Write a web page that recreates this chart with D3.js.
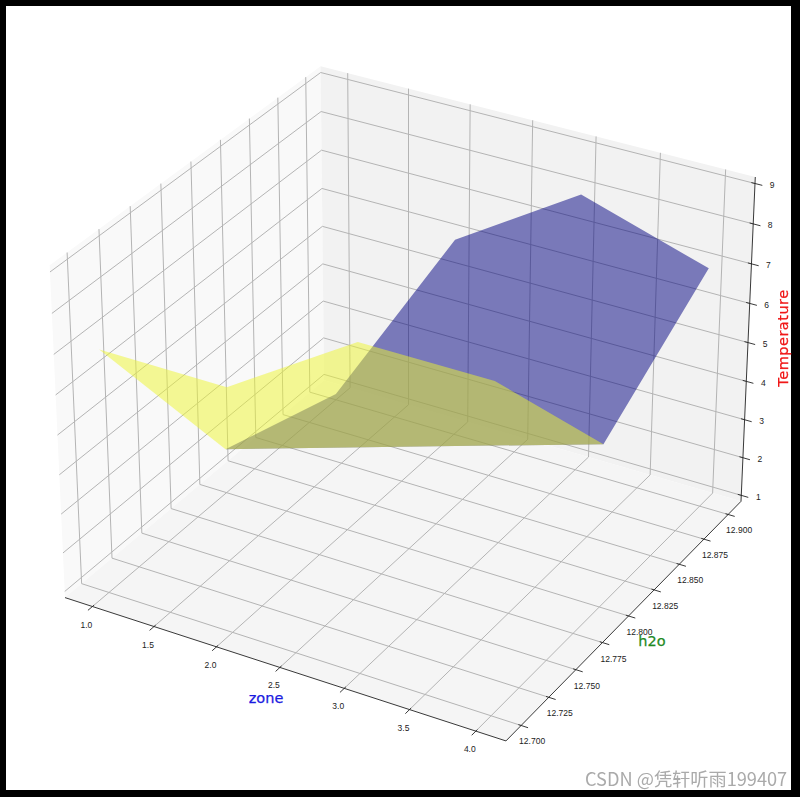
<!DOCTYPE html><html><head><meta charset="utf-8"><script src="https://cdn.jsdelivr.net/npm/d3@7"></script>
<style>html,body{margin:0;background:#000}svg{display:block;filter:blur(.35px)}</style></head><body><svg id="c" width="800" height="797"></svg>
<script>
const zones=[1,2,3,4];
const h2oRows=[12.7,12.8,12.9];
const tempRow127=[7,7,9,9];
const tempRow128=[2,3,4,5];
const tempRow129=[1,6,8,7];
const zoneTicks=[1,1.5,2,2.5,3,3.5,4];
const h2oTicks=[12.7,12.725,12.75,12.775,12.8,12.825,12.85,12.875,12.9];
const tempTicks=[1,2,3,4,5,6,7,8,9];
const zoneLim=[0.775,4.225], h2oLim=[12.6865,12.9135], tempLim=[0.84,9.16];
const box=[1.143,1.143,0.857];
const xn=d3.scaleLinear().domain(zoneLim).range([-box[0]/2,box[0]/2]);
const yn=d3.scaleLinear().domain(h2oLim).range([-box[1]/2,box[1]/2]);
const zn=d3.scaleLinear().domain(tempLim).range([-box[2]/2,box[2]/2]);
const u=[.866025,.5,0],v=[-.25,.433013,.866025],w=[.433013,-.75,.5];
const sx=d3.scaleLinear().domain([0,1]).range([409,409+4421]);
const sy=d3.scaleLinear().domain([0,1]).range([388,388-4421]);
const dot=(a,b)=>a[0]*b[0]+a[1]*b[1]+a[2]*b[2];
function P(x,y,z){const p=[xn(x),yn(y),zn(z)],d=10-dot(w,p);return [sx(dot(u,p)/d),sy(dot(v,p)/d)];}
const s=d3.select('#c');
s.append('rect').attr('x',6).attr('y',6).attr('width',785).attr('height',784).attr('fill','#fff');
const L=d3.line();
const [x0,x1]=zoneLim,[y0,y1]=h2oLim,[z0,z1]=tempLim;
const pathOf=pts=>L(pts.map(p=>P(...p)));
const pane=(pts,f)=>s.append('path').attr('d',pathOf(pts)+'Z').attr('fill',f);
pane([[x0,y0,z0],[x0,y1,z0],[x0,y1,z1],[x0,y0,z1]],'#f9f9f9');
pane([[x0,y1,z0],[x1,y1,z0],[x1,y1,z1],[x0,y1,z1]],'#f2f2f2');
pane([[x0,y0,z0],[x1,y0,z0],[x1,y1,z0],[x0,y1,z0]],'#f5f5f5');
const grid=pts=>s.append('path').attr('d',pathOf(pts)).attr('fill','none').attr('stroke','#b4b4b4').attr('stroke-width',1);
zoneTicks.forEach(t=>grid([[t,y0,z0],[t,y1,z0],[t,y1,z1]]));
h2oTicks.forEach(t=>grid([[x1,t,z0],[x0,t,z0],[x0,t,z1]]));
tempTicks.forEach(t=>grid([[x0,y0,t],[x0,y1,t],[x1,y1,t]]));
function surface(yA,zA,yB,zB,color){
  const pts=[...zones.map((z,i)=>[z,yA,zA[i]]),...zones.map((z,i)=>[z,yB,zB[i]]).reverse()];
  s.append('path').attr('d',pathOf(pts)+'Z').attr('fill',color).attr('fill-opacity',.5);
}
surface(h2oRows[1],tempRow128,h2oRows[2],tempRow129,'#000080');
surface(h2oRows[0],tempRow127,h2oRows[1],tempRow128,'#eef52e');
const axis=pts=>s.append('path').attr('d',pathOf(pts)).attr('fill','none').attr('stroke','#222').attr('stroke-width',.9);
axis([[x0,y0,z0],[x1,y0,z0]]);axis([[x1,y0,z0],[x1,y1,z0]]);axis([[x1,y1,z0],[x1,y1,z1]]);
const dx=x1-x0,dy=y1-y0;
const tickText=(p,txt,ox,oy)=>s.append('text').attr('x',p[0]+ox).attr('y',p[1]+oy).attr('text-anchor','middle').attr('dominant-baseline','central').attr('font-family','Liberation Sans').attr('font-size',8.5).attr('fill','#222').text(txt);
const fx=d3.format('.1f'),fy=d3.format('.3f');
zoneTicks.forEach(t=>{axis([[t,y0+dy*.006,z0],[t,y0-dy*.016,z0]]);tickText(P(t,y0,z0),fx(t),-6,18);});
h2oTicks.forEach(t=>{axis([[x1-dx*.006,t,z0],[x1+dx*.015,t,z0]]);tickText(P(x1,t,z0),fy(t),11,16);});
tempTicks.forEach(t=>{axis([[x1-dx*.008,y1,t],[x1+dx*.016,y1,t]]);tickText(P(x1,y1,t),String(t),17,1.5);});
const label=(x,y,txt,c,rot,ls)=>s.append('text').attr('transform',`translate(${x},${y})`+(rot?` rotate(${rot})`:'')).attr('text-anchor','middle').attr('dominant-baseline','central').attr('font-family','DejaVu Sans').attr('font-size',14.5).attr('letter-spacing',ls||0).attr('stroke',c).attr('stroke-width',.25).attr('fill',c).text(txt);
label(266,698,'zone','#1a1ae0');
label(652,641,'h2o','#1f8a1f');
label(783,338,'Temperature','#f01818',-90,.5);
s.append('text').attr('x',585).attr('y',786).attr('font-family','Noto Sans CJK SC').attr('font-size',18.2).attr('fill','#aaa').text('CSDN @凭轩听雨199407');
</script></body></html>
